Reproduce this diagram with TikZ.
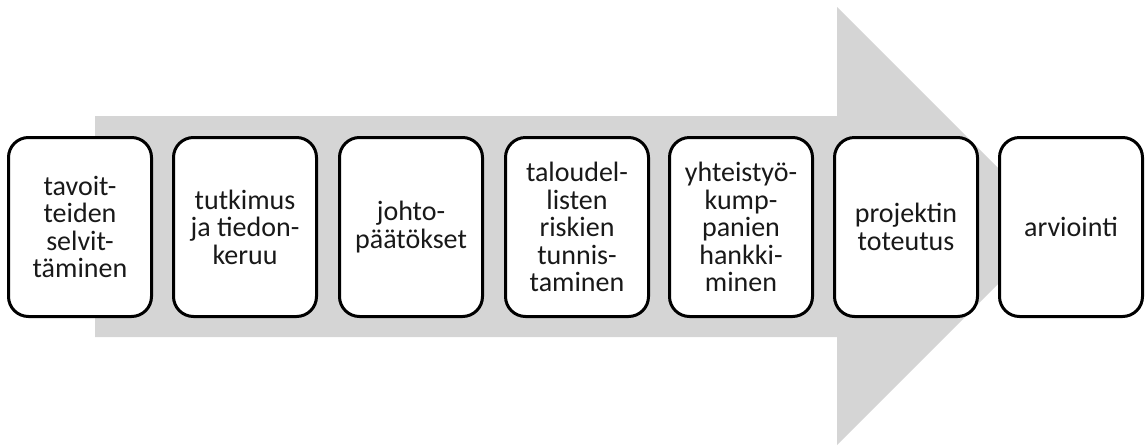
\documentclass[tikz,border=0pt]{standalone}
\usepackage{fontspec}
\setmainfont{Carlito}
\begin{document}
\begin{tikzpicture}[x=1pt,y=-1pt,
  stage/.style={draw=black,line width=3pt,fill=white,rounded corners=20pt,
    minimum width=143pt,minimum height=179pt,align=center,inner sep=2pt,
    font=\fontsize{28pt}{27.5pt}\selectfont,text=black!90}]
\definecolor{arrowgray}{RGB}{213,213,213}
\useasboundingbox (0,0) rectangle (1148,445);
\fill[arrowgray] (95,116) -- (837,116) -- (837,7) -- (1056,226) -- (837,445) -- (837,337) -- (95,337) -- cycle;
\node[stage] (s1) at (80,227) {tavoit-\\teiden\\selvit-\\täminen};
\node[stage] (s2) at (245,227) {tutkimus\\ja tiedon-\\keruu};
\node[stage] (s3) at (411,227) {johto-\\päätökset};
\node[stage] (s4) at (577,227) {taloudel-\\listen\\riskien\\tunnis-\\taminen};
\node[stage] (s5) at (741,227) {yhteistyö-\\kump-\\panien\\hankki-\\minen};
\node[stage] (s6) at (906,227) {projektin\\toteutus};
\node[stage] (s7) at (1071,227) {arviointi};
\end{tikzpicture}
\end{document}
